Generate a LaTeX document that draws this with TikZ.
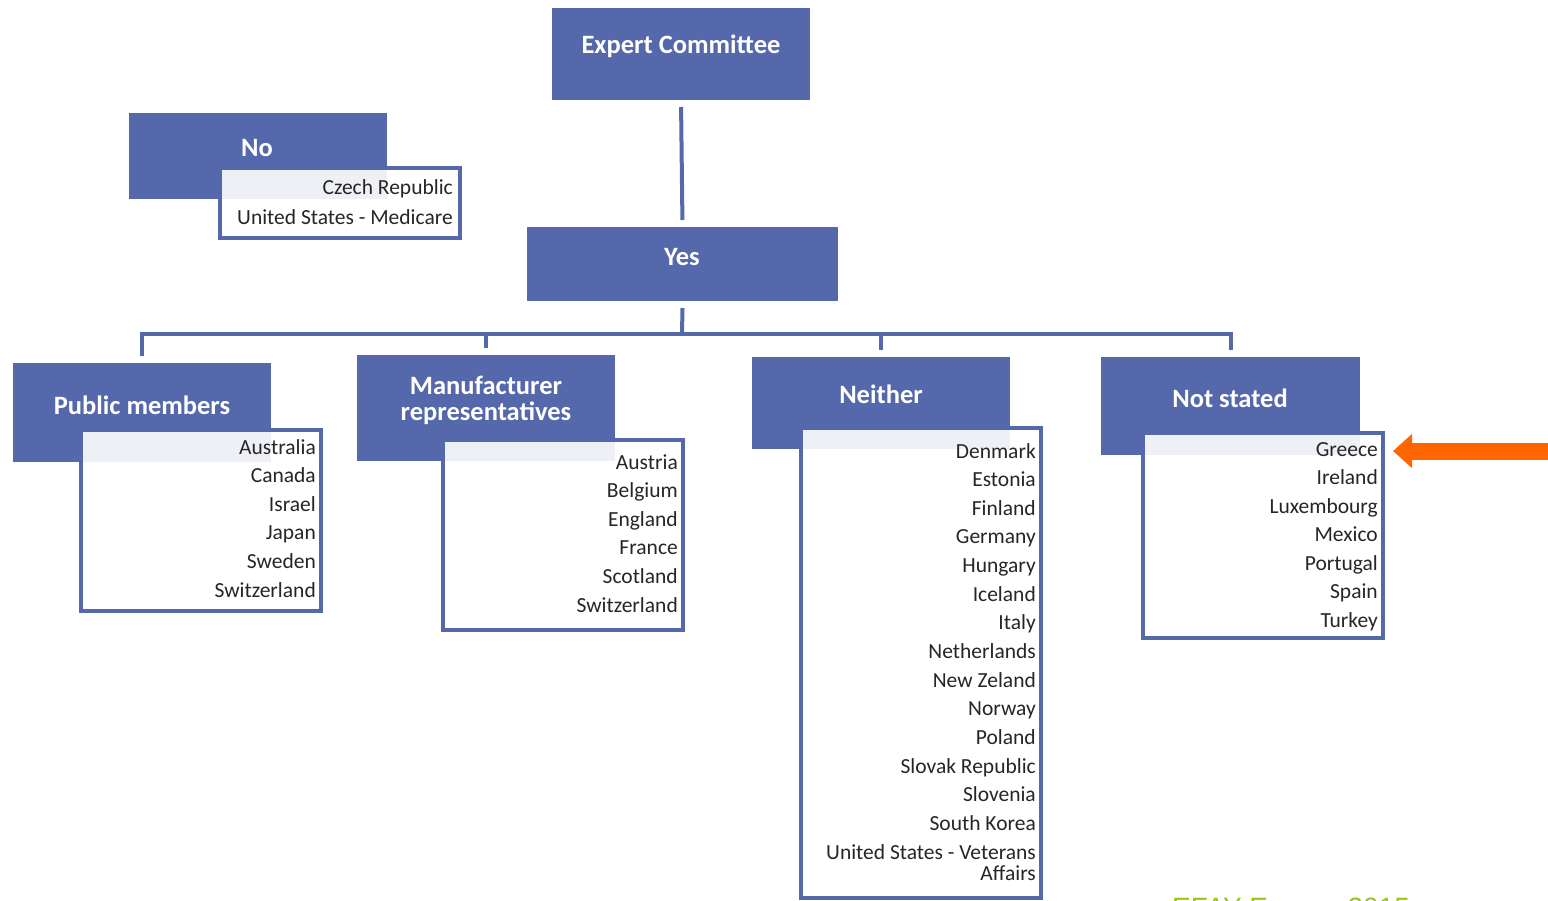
\documentclass[tikz,border=0pt]{standalone}
\usepackage{fontspec}
\setmainfont{Carlito}
\newfontfamily\footfont{Liberation Sans}
\usetikzlibrary{arrows.meta}
\definecolor{boxblue}{HTML}{5468AB}
\definecolor{itemtext}{HTML}{262626}
\definecolor{arroworange}{HTML}{FF6600}
\definecolor{footgreen}{HTML}{9AC31C}
\begin{document}
\begin{tikzpicture}[x=1pt,y=-1pt,
  bluebox/.style={fill=boxblue, draw=none, anchor=north west, inner sep=0pt, outer sep=0pt},
  title/.style={text=white, font=\bfseries\fontsize{26.5}{26}\selectfont, align=center, inner sep=0pt},
  listbox/.style={draw=boxblue, line width=3.5pt, fill=white, fill opacity=0.9, anchor=north west, inner sep=0pt, outer sep=0pt},
  item/.style={text=itemtext, font=\fontsize{21.5}{21}\selectfont, anchor=base east, inner sep=0pt, align=right},
  conn/.style={draw=boxblue, line width=4pt},
]
\useasboundingbox (0,0) rectangle (1548,900);

% Expert Committee
\node[bluebox, minimum width=258pt, minimum height=92pt] (ec) at (552,8) {};
\node[title] (ect) at (681,46) {Expert Committee};

% No
\node[bluebox, minimum width=258pt, minimum height=86pt] (no) at (129,113) {};
\node[title] (not) at (257,148) {No};
\node[listbox, minimum width=240pt, minimum height=70pt] (nol) at (220,168) {};
\node[item] (no-1) at (453,194) {Czech Republic};
\node[item] (no-2) at (453,224) {United States - Medicare};

% Yes
\node[bluebox, minimum width=311pt, minimum height=74pt] (yes) at (527,227) {};
\node[title] (yest) at (682,257) {Yes};

% Public members
\node[bluebox, minimum width=258pt, minimum height=99pt] (pm) at (13,363) {};
\node[title] (pmt) at (142,405) {Public members};
\node[listbox, minimum width=240pt, minimum height=181pt] (pml) at (81,430) {};
\foreach \t [count=\i] in {Australia,Canada,Israel,Japan,Sweden,Switzerland}
  \node[item] (pm-\i) at (316,{454+28.6*(\i-1)}) {\t};

% Manufacturer representatives
\node[bluebox, minimum width=258pt, minimum height=106pt] (mr) at (357,355) {};
\node[title] (mrt) at (486,400) {Manufacturer\\representatives};
\node[listbox, minimum width=240pt, minimum height=190pt] (mrl) at (443,440) {};
\foreach \t [count=\i] in {Austria,Belgium,England,France,Scotland,Switzerland}
  \node[item] (mr-\i) at (678,{469+28.6*(\i-1)}) {\t};

% Neither
\node[bluebox, minimum width=258pt, minimum height=92pt] (ne) at (752,357) {};
\node[title] (net) at (881,394) {Neither};
\node[listbox, minimum width=240pt, minimum height=470pt] (nel) at (801,428) {};
\foreach \t [count=\i] in {Denmark,Estonia,Finland,Germany,Hungary,Iceland,Italy,Netherlands,New Zeland,Norway,Poland,Slovak Republic,Slovenia,South Korea}
  \node[item] (ne-\i) at (1036,{458+28.65*(\i-1)}) {\t};
\node[item] (ne-15) at (1036,880) {United States - Veterans\\Affairs};

% Not stated
\node[bluebox, minimum width=259pt, minimum height=98pt] (ns) at (1101,357) {};
\node[title] (nst) at (1230,398) {Not stated};
\node[listbox, minimum width=240pt, minimum height=205pt] (nsl) at (1143,433) {};
\foreach \t [count=\i] in {Greece,Ireland,Luxembourg,Mexico,Portugal,Spain,Turkey}
  \node[item] (ns-\i) at (1378,{456+28.5*(\i-1)}) {\t};

% Connectors
\draw[conn, shorten <=7pt, shorten >=7pt] (ec.south) -- (yes.north);
\coordinate (hub) at (682,334);
\draw[conn] ([yshift=-7pt]yes.south) -- (hub);
\draw[conn] (hub) -| ([yshift=7pt]pm.north);
\draw[conn] (hub) -| ([yshift=7pt]mr.north);
\draw[conn] (hub) -| ([yshift=7pt]ne.north);
\draw[conn] (hub) -| ([yshift=7pt]ns.north);

% Orange arrow
\coordinate (arrowtail) at (1560,451);
\coordinate (arrowtip) at (1393,451);
\draw[arroworange, line width=17pt, -{Triangle[length=19pt,width=33pt]}] (arrowtail) -- (arrowtip);

% Footer (cut off)
\node[font=\footfont\fontsize{28}{28}\selectfont, text=footgreen, anchor=base west, inner sep=0pt] (foot) at (1172,917) {EFAY Europe 2015};
\end{tikzpicture}
\end{document}
